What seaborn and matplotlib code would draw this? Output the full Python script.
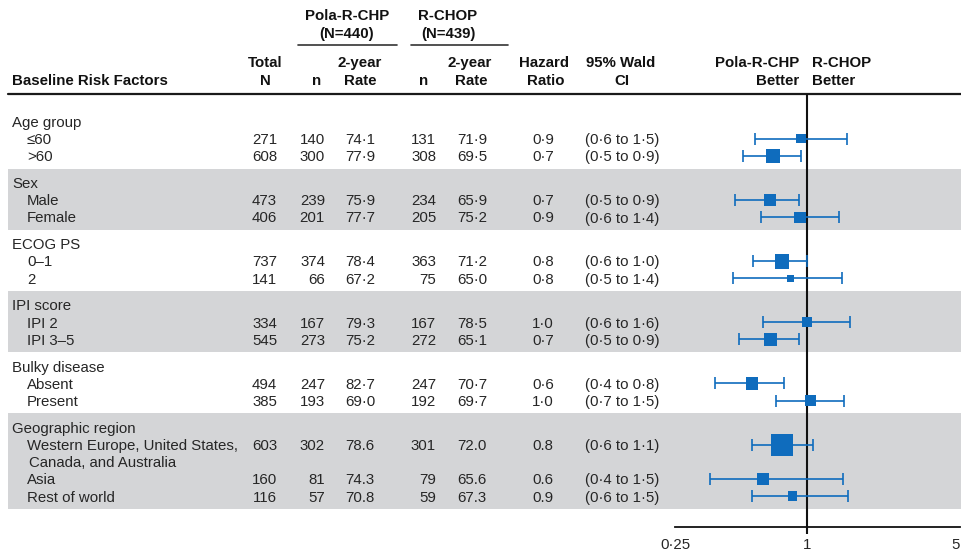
import numpy as np
import pandas as pd
import matplotlib
matplotlib.use("Agg")
import matplotlib.pyplot as plt
from matplotlib.ticker import NullLocator
from matplotlib import font_manager as fm
import seaborn as sns

# ---- data -------------------------------------------------------------
groups = ["Age group", "Sex", "ECOG PS", "IPI score", "Bulky disease",
          "Geographic region"]
subgroups = ["≤60", ">60", "Male", "Female", "0–1", "2", "IPI 2", "IPI 3–5",
             "Absent", "Present",
             "Western Europe, United States,\nCanada, and Australia",
             "Asia", "Rest of world"]
group_idx = [0, 0, 1, 1, 2, 2, 3, 3, 4, 4, 5, 5, 5]
total_n = [271, 608, 473, 406, 737, 141, 334, 545, 494, 385, 603, 160, 116]
pola_n = [140, 300, 239, 201, 374, 66, 167, 273, 247, 193, 302, 81, 57]
pola_rate = [74.1, 77.9, 75.9, 77.7, 78.4, 67.2, 79.3, 75.2, 82.7, 69.0,
             78.6, 74.3, 70.8]
rchop_n = [131, 308, 234, 205, 363, 75, 167, 272, 247, 192, 301, 79, 59]
rchop_rate = [71.9, 69.5, 65.9, 75.2, 71.2, 65.0, 78.5, 65.1, 70.7, 69.7,
              72.0, 65.6, 67.3]
hazard_ratio = [0.94, 0.70, 0.68, 0.93, 0.77, 0.84, 1.00, 0.68, 0.56, 1.04,
                0.77, 0.63, 0.86]
ci_low = [0.58, 0.51, 0.47, 0.62, 0.57, 0.46, 0.63, 0.49, 0.38, 0.72,
          0.56, 0.36, 0.56]
ci_high = [1.52, 0.94, 0.92, 1.40, 1.00, 1.44, 1.57, 0.92, 0.79, 1.48,
           1.07, 1.46, 1.54]
# decimal mark used for the rate / HR columns of each group
group_decimal = ["·", "·", "·", "·", "·", "."]
arm_headers = ["Pola-R-CHP\n(N=440)", "R-CHOP\n(N=439)"]
favours = ["Pola-R-CHP\nBetter", "R-CHOP\nBetter"]
x_ticks = [0.25, 1, 5]
x_tick_labels = ["0·25", "1", "5"]

# ---- style ------------------------------------------------------------
sns.set_theme(style="white")
_names = {f.name for f in fm.fontManager.ttflist}
if "Liberation Sans Narrow" in _names:
    FAMILY, FS = "Liberation Sans Narrow", 12.6
else:
    FAMILY, FS = "Liberation Sans", 10.8
plt.rcParams["font.family"] = [FAMILY, "DejaVu Sans"]
plt.rcParams["font.size"] = FS

TXT = "#262626"
HEAD = "#111111"
BLUE = "#0f6cbd"
BAND = "#d4d5d7"
PX = 100 / 72.0              # pixels per point
BASE = 0.36 * FS * PX        # baseline offset from visual centre

W, H = 961, 557
fig = plt.figure(figsize=(W / 100, H / 100), dpi=100)
bg = fig.add_axes([0, 0, 1, 1])
bg.set_xlim(0, W)
bg.set_ylim(H, 0)
bg.axis("off")


def put(x, yc, s, ha="left", bold=False, color=TXT):
    bg.text(x, yc + BASE, s, ha=ha, va="baseline", color=color,
            fontweight="bold" if bold else "normal", fontsize=FS)


def fmt(v, mark):
    return f"{v:.1f}".replace(".", mark)


# ---- row layout -------------------------------------------------------
LINE, GAP = 17.2, 26.8
y = 121.5
row_y = [0.0] * len(subgroups)
for g, gname in enumerate(groups):
    top = y
    cur = y
    for i in [k for k in range(len(subgroups)) if group_idx[k] == g]:
        cur += LINE
        row_y[i] = cur
        cur += LINE * subgroups[i].count("\n")
    if g % 2 == 1:
        bg.add_patch(plt.Rectangle((8, top - 14), W - 8,
                                   cur + 12.5 - (top - 14),
                                   color=BAND, lw=0, zorder=0))
    put(12, top, gname)
    y = cur + GAP

# ---- table body -------------------------------------------------------
for i, label in enumerate(subgroups):
    yc = row_y[i]
    for j, line in enumerate(label.split("\n")):
        put(27 + 2 * j, yc + j * LINE, line)
    mark = group_decimal[group_idx[i]]
    put(277, yc, f"{total_n[i]}", ha="right")
    put(325, yc, f"{pola_n[i]}", ha="right")
    put(360, yc, fmt(pola_rate[i], mark), ha="center")
    put(436, yc, f"{rchop_n[i]}", ha="right")
    put(472, yc, fmt(rchop_rate[i], mark), ha="center")
    put(543, yc, fmt(hazard_ratio[i], mark), ha="center")
    put(585, yc, f"({fmt(ci_low[i], '·')} to {fmt(ci_high[i], '·')})")

# ---- header -----------------------------------------------------------
for cx, head, (x0, x1) in zip([347, 448], arm_headers,
                              [(298, 397), (411, 508)]):
    a, b = head.split("\n")
    put(cx, 15, a, ha="center", bold=True, color=HEAD)
    put(cx, 33, b, ha="center", bold=True, color=HEAD)
    bg.plot([x0, x1], [45, 45], color="#333333", lw=1.2)

put(12, 80, "Baseline Risk Factors", bold=True, color=HEAD)
put(265, 62, "Total", ha="center", bold=True, color=HEAD)
put(265, 80, "N", ha="center", bold=True, color=HEAD)
put(317, 80, "n", ha="center", bold=True, color=HEAD)
put(360, 62, "2-year", ha="center", bold=True, color=HEAD)
put(360, 80, "Rate", ha="center", bold=True, color=HEAD)
put(424, 80, "n", ha="center", bold=True, color=HEAD)
put(470, 62, "2-year", ha="center", bold=True, color=HEAD)
put(471, 80, "Rate", ha="center", bold=True, color=HEAD)
put(544, 62, "Hazard", ha="center", bold=True, color=HEAD)
put(546, 80, "Ratio", ha="center", bold=True, color=HEAD)
put(621, 62, "95% Wald", ha="center", bold=True, color=HEAD)
put(622, 80, "CI", ha="center", bold=True, color=HEAD)
left_fav, right_fav = favours
put(799, 62, left_fav.split("\n")[0], ha="right", bold=True, color=HEAD)
put(799, 80, left_fav.split("\n")[1], ha="right", bold=True, color=HEAD)
put(812, 62, right_fav.split("\n")[0], bold=True, color=HEAD)
put(812, 80, right_fav.split("\n")[1], bold=True, color=HEAD)
bg.plot([8, W], [94, 94], color="#1a1a1a", lw=1.6)

# ---- forest panel -----------------------------------------------------
ax = fig.add_axes([675 / W, 0, (960 - 675) / W, 1])
ax.patch.set_alpha(0)
ax.set_xscale("log")
ax.set_xlim(0.25, 5)
ax.set_ylim(H, 0)

df = pd.DataFrame({
    "hr": hazard_ratio, "lo": ci_low, "hi": ci_high, "y": row_y,
    "n": total_n, "group": group_idx,
})
side_px = np.where(df["group"] == 5, 0.9, 0.55) * np.sqrt(df["n"])
df["area"] = (side_px / PX) ** 2

ax.plot([1, 1], [94, 534], color="#111111", lw=1.5, zorder=1,
        solid_capstyle="butt")
ax.errorbar(df["hr"], df["y"], xerr=[df["hr"] - df["lo"], df["hi"] - df["hr"]],
            fmt="none", ecolor=BLUE, elinewidth=1.2, capsize=4.3,
            capthick=1.2, zorder=2)
sns.scatterplot(data=df, x="hr", y="y", size="area",
                sizes=(df["area"].min(), df["area"].max()), marker="s",
                color=BLUE, edgecolor="none", linewidth=0, legend=False,
                ax=ax, zorder=3)

for s in ["top", "left", "right"]:
    ax.spines[s].set_visible(False)
ax.spines["bottom"].set_position(("data", 527))
ax.spines["bottom"].set_color("#111111")
ax.spines["bottom"].set_linewidth(1.3)
ax.set_xticks(x_ticks)
ax.set_xticklabels(x_tick_labels)
ax.xaxis.set_minor_locator(NullLocator())
ax.tick_params(axis="x", direction="out", length=5, width=1.3,
               color="#111111", pad=3, labelsize=FS, labelcolor=TXT)
# keep the label of the last tick inside the figure edge
ax.get_xticklabels()[-1].set_horizontalalignment("right")
ax.set_yticks([])
ax.set_xlabel("")
ax.set_ylabel("")

fig.savefig("out.png", dpi=100)
